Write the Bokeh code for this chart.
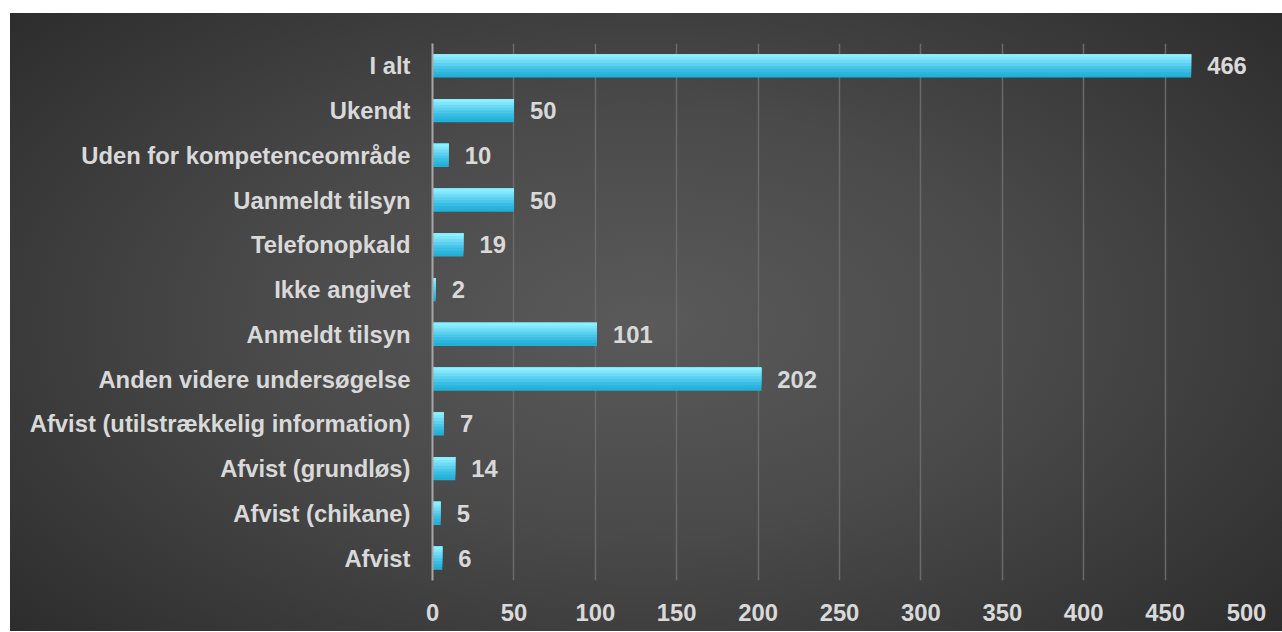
from bokeh.plotting import figure
from bokeh.models import ColumnDataSource, FactorRange, Range1d, FixedTicker
from bokeh.transform import dodge
from bokeh.core.properties import value
from bokeh.embed import file_html
from bokeh.resources import INLINE

categories = ["Afvist", "Afvist (chikane)", "Afvist (grundløs)",
              "Afvist (utilstrækkelig information)", "Anden videre undersøgelse",
              "Anmeldt tilsyn", "Ikke angivet", "Telefonopkald", "Uanmeldt tilsyn",
              "Uden for kompetenceområde", "Ukendt", "I alt"]
counts = [6, 5, 14, 7, 202, 101, 2, 19, 50, 10, 50, 466]
x_ticks = [0, 50, 100, 150, 200, 250, 300, 350, 400, 450, 500]

FONT = "Liberation Sans"
TXT = "#d9d9d9"
FS = "23.8px"

src = ColumnDataSource(dict(cat=categories, n=counts, lbl=[str(c) for c in counts]))

p = figure(y_range=FactorRange(*categories), x_range=Range1d(0, 500),
           width=1272, height=618, output_backend="svg", toolbar_location=None,
           min_border_left=422, min_border_right=36, min_border_top=30,
           min_border_bottom=51, margin=(13, 0, 0, 10))
p.background_fill_alpha = 0
p.border_fill_alpha = 0
p.outline_line_color = None
p.styles = {"background": "radial-gradient(ellipse 75% 85% at 50% 50%, #5a5a5a 0%, #4a4a4a 40%, #262626 100%)"}

# gradient bars: layered bars anchored at the top edge, darker (full) to lighter (short)
bar_h = 0.52
cols = ["#22b0d8", "#2db6dd", "#3abde3", "#4ac6e9", "#5cd0ef", "#6edaf5", "#7fe5fa", "#8cefff"]
ns = len(cols)
for i, c in enumerate(cols):
    h = bar_h * (1 - i / ns)
    off = bar_h / 2 - h / 2
    p.hbar(y=dodge("cat", off, range=p.y_range), right="n", left=0, height=h,
           source=src, fill_color=c, line_color=None)

p.text(x="n", y="cat", text="lbl", source=src, x_offset=16, text_align="left",
       text_baseline="middle", text_color=TXT, text_font=value(FONT),
       text_font_size=FS, text_font_style="bold")

p.xgrid.grid_line_color = "#6a6a6a"
p.xgrid.grid_line_width = 1.5
p.xgrid.ticker = FixedTicker(ticks=x_ticks)
p.ygrid.grid_line_color = None

p.xaxis.ticker = FixedTicker(ticks=x_ticks)
p.xaxis.axis_line_color = None
p.xaxis.major_tick_line_color = None
p.xaxis.minor_tick_line_color = None
p.xaxis.major_label_standoff = 17
p.xaxis.major_label_text_font = FONT
p.xaxis.major_label_text_font_size = FS
p.xaxis.major_label_text_font_style = "bold"
p.xaxis.major_label_text_color = TXT

p.yaxis.axis_line_color = "#a6a6a6"
p.yaxis.axis_line_width = 2
p.yaxis.major_tick_line_color = None
p.yaxis.minor_tick_line_color = None
p.yaxis.major_label_standoff = 16
p.yaxis.major_label_text_font = FONT
p.yaxis.major_label_text_font_size = FS
p.yaxis.major_label_text_font_style = "bold"
p.yaxis.major_label_text_color = TXT
p.y_range.range_padding = 0
p.y_range.group_padding = 0

open("out.html", "w").write(file_html(p, INLINE))
